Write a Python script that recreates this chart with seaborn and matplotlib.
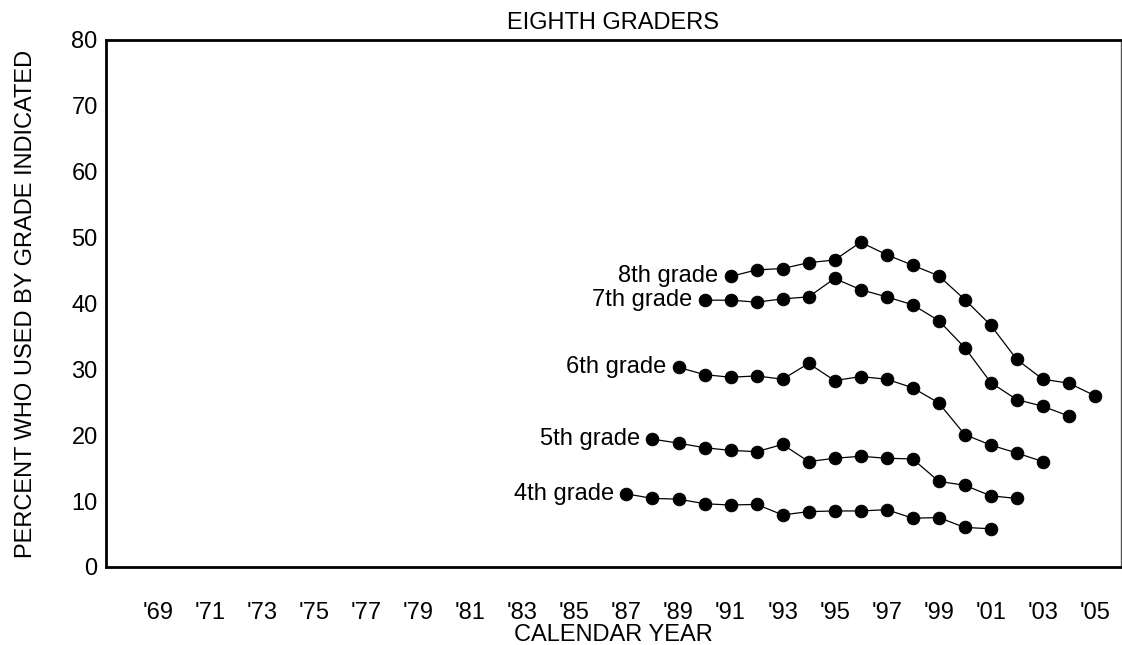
#!/usr/bin/env python3

import matplotlib
matplotlib.use("Agg")
import matplotlib.pyplot as plt
import pandas as pd
import seaborn as sns

grades = ["4th grade", "5th grade", "6th grade", "7th grade", "8th grade"]
start_years = [1987, 1988, 1989, 1990, 1991]
pct_4th = [11.1, 10.4, 10.3, 9.6, 9.4, 9.5, 7.9, 8.4, 8.5, 8.5, 8.7, 7.4, 7.5, 6.0, 5.8]
pct_5th = [19.4, 18.8, 18.1, 17.7, 17.5, 18.6, 16.0, 16.5, 16.8, 16.5, 16.4, 13.0, 12.4, 10.8, 10.4]
pct_6th = [30.3, 29.2, 28.8, 29.0, 28.5, 30.9, 28.3, 28.9, 28.5, 27.2, 24.9, 20.1, 18.5, 17.3, 16.0]
pct_7th = [40.5, 40.5, 40.2, 40.7, 41.0, 43.8, 42.1, 41.0, 39.8, 37.4, 33.3, 28.0, 25.4, 24.4, 22.9]
pct_8th = [44.1, 45.1, 45.3, 46.2, 46.6, 49.3, 47.4, 45.8, 44.2, 40.6, 36.7, 31.5, 28.5, 27.9, 26.0]
tick_years = list(range(1968, 2006))

rows = []
for grade, start, vals in zip(grades, start_years,
                              [pct_4th, pct_5th, pct_6th, pct_7th, pct_8th]):
    for i, v in enumerate(vals):
        rows.append({"grade": grade, "year": start + i, "pct": v})
df = pd.DataFrame(rows)

sns.set_style("white")
plt.rcParams["font.family"] = ["Liberation Sans", "DejaVu Sans"]
plt.rcParams["text.color"] = "black"
plt.rcParams["axes.labelcolor"] = "black"
plt.rcParams["xtick.color"] = "black"
plt.rcParams["ytick.color"] = "black"
fs = 17

fig = plt.figure(figsize=(11.22, 6.45), dpi=100)
ax = fig.add_axes([0.0945, 0.121, 0.9045, 0.817])

sns.lineplot(data=df, x="year", y="pct", hue="grade", units="grade", estimator=None,
             palette=["black"] * len(grades), marker="o", markersize=9,
             markeredgecolor="black", linewidth=0.9, legend=False, ax=ax)

for grade in grades:
    first = df[df["grade"] == grade].iloc[0]
    ax.annotate(grade, (first["year"], first["pct"]), xytext=(-9, 0),
                textcoords="offset points", ha="right", va="center", fontsize=fs)

ax.set_xlim(1967, 2006)
ax.set_ylim(0, 80)
ax.set_xticks(tick_years)
ax.set_xticklabels(["'%02d" % (y % 100) if y % 2 == 1 else "" for y in tick_years], fontsize=fs)
ax.set_yticks(range(0, 81, 10))
ax.set_yticklabels([str(v) for v in range(0, 81, 10)], fontsize=fs)
ax.tick_params(axis="x", direction="in", length=5, width=1, pad=25)
ax.tick_params(axis="y", direction="in", length=6, width=1, pad=6)

for side in ["left", "bottom", "top"]:
    ax.spines[side].set_color("black")
    ax.spines[side].set_linewidth(2)
ax.spines["right"].set_color("#555555")
ax.spines["right"].set_linewidth(1)

ax.set_xlabel("CALENDAR YEAR", fontsize=fs, labelpad=0)
ax.set_ylabel("PERCENT WHO USED BY GRADE INDICATED", fontsize=fs, labelpad=25)
ax.set_title("EIGHTH GRADERS", fontsize=fs, pad=8)

fig.savefig("out.png", dpi=100)
